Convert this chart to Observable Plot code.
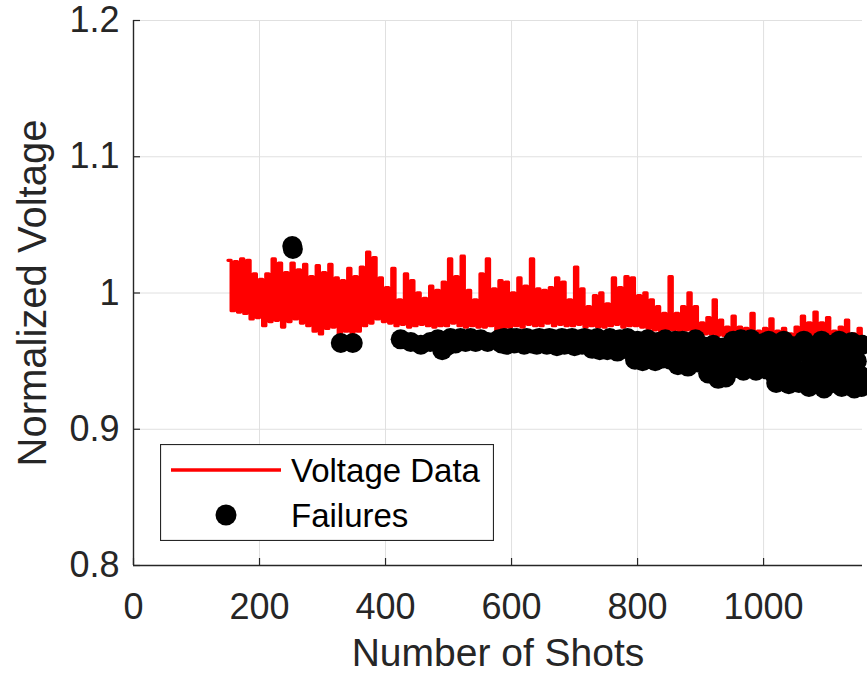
<!DOCTYPE html>
<html>
<head>
<meta charset="utf-8">
<script src="https://cdn.jsdelivr.net/npm/d3@7"></script>
<script src="https://cdn.jsdelivr.net/npm/@observablehq/plot@0.6"></script>
<style>
  html, body { margin: 0; padding: 0; background: #fff; }
  #wrap { position: relative; width: 867px; height: 674px; }
  #legend { position: absolute; left: 160px; top: 444px; }
</style>
</head>
<body>
<div id="wrap"></div>
<script>
// ---- data ----
const shotStart = 150;
const shotStep = 5;
const voltage = [
  1.024, 0.987, 1.023, 0.986, 1.025, 0.985, 1.024, 0.981, 1.014, 0.982,
  1.010, 0.976, 1.014, 0.979, 1.025, 0.980, 1.022, 0.975, 1.015, 0.979,
  1.022, 0.981, 1.017, 0.978, 1.021, 0.976, 1.012, 0.972, 1.020, 0.970,
  1.015, 0.974, 1.021, 0.975, 1.011, 0.967, 1.009, 0.972, 1.018, 0.971,
  1.012, 0.972, 1.019, 0.976, 1.030, 0.978, 1.026, 0.981, 1.011, 0.979,
  1.004, 0.978, 1.018, 0.976, 0.995, 0.977, 1.014, 0.975, 1.009, 0.976,
  1.000, 0.977, 0.996, 0.976, 1.005, 0.975, 1.002, 0.976, 1.008, 0.976,
  1.025, 0.978, 1.012, 0.976, 1.027, 0.975, 1.002, 0.976, 0.995, 0.975,
  1.014, 0.975, 1.025, 0.976, 1.003, 0.972, 1.009, 0.974, 1.008, 0.975,
  1.000, 0.976, 1.011, 0.975, 1.005, 0.977, 1.025, 0.976, 1.003, 0.976,
  1.002, 0.978, 1.004, 0.976, 1.011, 0.977, 1.008, 0.976, 0.995, 0.976,
  1.019, 0.977, 1.003, 0.975, 0.990, 0.976, 0.998, 0.975, 1.000, 0.975,
  0.992, 0.976, 1.011, 0.977, 1.004, 0.975, 1.012, 0.976, 1.011, 0.976,
  0.998, 0.975, 1.000, 0.974, 0.995, 0.973, 0.990, 0.972, 0.985, 0.972,
  1.012, 0.973, 0.985, 0.972, 0.990, 0.973, 1.000, 0.972, 0.990, 0.971,
  0.978, 0.970, 0.982, 0.970, 0.995, 0.969, 0.980, 0.969, 0.975, 0.968,
  0.983, 0.968, 0.975, 0.967, 0.974, 0.968, 0.985, 0.967, 0.972, 0.967,
  0.974, 0.967, 0.981, 0.966, 0.972, 0.967, 0.974, 0.966, 0.970, 0.966,
  0.975, 0.966, 0.983, 0.967, 0.978, 0.966, 0.986, 0.966, 0.978, 0.966,
  0.982, 0.966, 0.972, 0.965, 0.975, 0.966, 0.980, 0.965, 0.970, 0.965, 0.974, 0.965
];
const failures = [
  [252, 1.0345], [253, 1.0323], [329, 0.9633], [348, 0.9633],
  [424, 0.966], [440, 0.964], [456, 0.962], [471, 0.964], [483, 0.966], [490, 0.958],
  [497, 0.961], [503, 0.967], [511, 0.963], [519, 0.967], [527, 0.964], [535, 0.967],
  [543, 0.964], [551, 0.966], [562, 0.964],
  [580, 0.966], [584, 0.963], [588, 0.967], [592, 0.962], [596, 0.965], [600, 0.967],
  [604, 0.963], [608, 0.967], [612, 0.964], [616, 0.966], [620, 0.962], [624, 0.967],
  [628, 0.964], [632, 0.963], [636, 0.966], [640, 0.962], [644, 0.967], [648, 0.964],
  [652, 0.966], [656, 0.962], [660, 0.967], [664, 0.963], [668, 0.966], [672, 0.961],
  [676, 0.965], [680, 0.967], [684, 0.962], [688, 0.966], [692, 0.963], [696, 0.967],
  [700, 0.961], [704, 0.965], [708, 0.966], [712, 0.962], [716, 0.967], [720, 0.963],
  [724, 0.966], [728, 0.959], [732, 0.963], [736, 0.967], [740, 0.958], [744, 0.962],
  [748, 0.965], [752, 0.958], [756, 0.967], [760, 0.961], [764, 0.964], [768, 0.957],
  [772, 0.966], [776, 0.961], [780, 0.959], [784, 0.967], [788, 0.963],
  [792, 0.957], [796, 0.951], [800, 0.965], [804, 0.960], [808, 0.950], [812, 0.955],
  [816, 0.966], [820, 0.953], [824, 0.961], [828, 0.950], [832, 0.964], [836, 0.957],
  [840, 0.952], [844, 0.966], [848, 0.960], [852, 0.951], [856, 0.956], [860, 0.965],
  [864, 0.947], [868, 0.958], [872, 0.965], [876, 0.952], [880, 0.946], [884, 0.961],
  [888, 0.955], [892, 0.966], [896, 0.949], [900, 0.957],
  [904, 0.961], [908, 0.950], [912, 0.941], [916, 0.956], [920, 0.962], [924, 0.945],
  [928, 0.937], [932, 0.951], [936, 0.960], [940, 0.938], [944, 0.947], [948, 0.957],
  [952, 0.965], [956, 0.945], [960, 0.955], [964, 0.966], [968, 0.943], [972, 0.950],
  [976, 0.959], [980, 0.966], [984, 0.947], [988, 0.943], [992, 0.956], [996, 0.963],
  [1000, 0.950], [1004, 0.944],
  [1008, 0.965], [1012, 0.955], [1016, 0.941], [1020, 0.934], [1024, 0.959], [1028, 0.948],
  [1032, 0.965], [1036, 0.938], [1040, 0.933], [1044, 0.951], [1048, 0.961], [1052, 0.944],
  [1056, 0.934], [1060, 0.957],
  [1064, 0.965], [1068, 0.941], [1072, 0.931], [1076, 0.951], [1080, 0.961], [1084, 0.936],
  [1088, 0.946], [1092, 0.965], [1096, 0.930], [1100, 0.955], [1104, 0.941], [1108, 0.962],
  [1112, 0.934], [1116, 0.950], [1120, 0.965], [1124, 0.931], [1128, 0.944], [1132, 0.957],
  [1136, 0.937], [1140, 0.964], [1144, 0.930], [1148, 0.950], [1152, 0.940], [1156, 0.962],
  [1155, 0.931]
];
const xTicks = [0, 200, 400, 600, 800, 1000];
const xTickLabels = ["0", "200", "400", "600", "800", "1000"];
const yTicks = [0.8, 0.9, 1.0, 1.1, 1.2];
const yTickLabels = ["0.8", "0.9", "1", "1.1", "1.2"];
const xDomain = [0, 1157];
const yDomain = [0.8, 1.2];
const seriesNames = ["Voltage Data", "Failures"];
const xLabel = "Number of Shots";
const yLabel = "Normalized Voltage";

// ---- build ----
const series = voltage.map((v, i) => ({shot: shotStart + i * shotStep, v}));
const W = 867, H = 674, mL = 133, mR = 5, mT = 20, mB = 109;
const frameW = W - mL - mR, frameH = H - mT - mB;
const axisColor = "#262626";
const font = "'Liberation Sans', Arial, Helvetica, sans-serif";

const chart = Plot.plot({
  width: W, height: H,
  marginLeft: mL, marginRight: mR, marginTop: mT, marginBottom: mB,
  x: {domain: xDomain},
  y: {domain: yDomain},
  style: {fontFamily: font, color: axisColor, background: "white", overflow: "visible"},
  marks: [
    Plot.ruleX(xTicks, {stroke: "#e0e0e0", strokeWidth: 1}),
    Plot.ruleY(yTicks, {stroke: "#e0e0e0", strokeWidth: 1}),
    Plot.line(series, {x: "shot", y: "v", stroke: "#ff0000", strokeWidth: 3.3, curve: "step-after"}),
    Plot.dot(failures, {x: d => d[0], y: d => d[1], r: 10, fill: "#000", stroke: "none"}),
    Plot.ruleX(xTicks, {insetTop: frameH - 7, stroke: axisColor, strokeWidth: 1.2}),
    Plot.ruleY(yTicks, {insetRight: frameW - 7, stroke: axisColor, strokeWidth: 1.2}),
    Plot.ruleX([xDomain[0]], {stroke: axisColor, strokeWidth: 1.4}),
    Plot.ruleY([yDomain[0]], {stroke: axisColor, strokeWidth: 1.4}),
    Plot.axisX(xTicks, {tickSize: 0, tickPadding: 28, fontSize: 36, label: null,
      tickFormat: d => xTickLabels[xTicks.indexOf(d)]}),
    Plot.axisY(yTicks, {tickSize: 0, tickPadding: 14, fontSize: 36, label: null,
      tickFormat: d => yTickLabels[yTicks.indexOf(d)]}),
    Plot.text([xLabel], {frameAnchor: "bottom", dy: 88, lineAnchor: "middle", textAnchor: "middle",
      fontSize: 39, fill: axisColor}),
    Plot.text([yLabel], {frameAnchor: "left", dx: -100, rotate: -90, lineAnchor: "middle",
      textAnchor: "middle", fontSize: 40, fill: axisColor})
  ]
});
document.getElementById("wrap").appendChild(chart);

// ---- legend (inside the axes, lower left) ----
const ns = "http://www.w3.org/2000/svg";
const leg = document.createElementNS(ns, "svg");
leg.setAttribute("id", "legend");
leg.setAttribute("width", 334);
leg.setAttribute("height", 97);
leg.innerHTML = `
  <rect x="0.5" y="0.5" width="333" height="96" fill="white" stroke="${axisColor}" stroke-width="1.2"/>
  <line x1="11" x2="121" y1="26" y2="26" stroke="#ff0000" stroke-width="3.5"/>
  <circle cx="66" cy="71" r="10.5" fill="#000"/>
  <text x="131" y="26" dy="0.36em" font-family="${font}" font-size="33" fill="#000">${seriesNames[0]}</text>
  <text x="131" y="71" dy="0.36em" font-family="${font}" font-size="33" fill="#000">${seriesNames[1]}</text>`;
document.getElementById("wrap").appendChild(leg);
</script>
</body>
</html>
